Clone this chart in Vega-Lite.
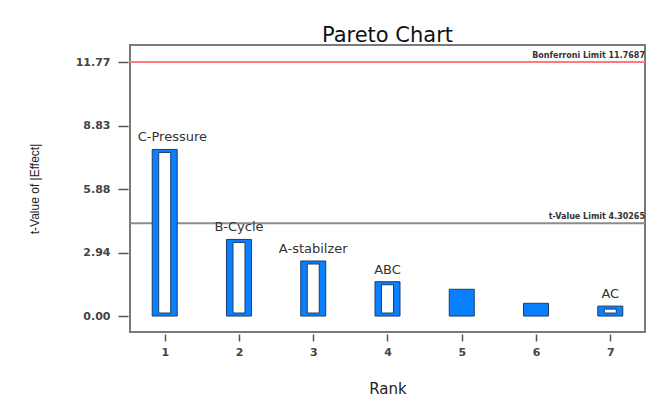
{
  "$schema": "https://vega.github.io/schema/vega-lite/v6.json",
  "width": 515,
  "height": 287,
  "autosize": {"type": "none"},
  "padding": {"left": 130, "top": 45, "right": 27, "bottom": 66},
  "background": "white",
  "title": {
    "text": "Pareto Chart",
    "font": "DejaVu Sans",
    "fontSize": 21,
    "fontWeight": "normal",
    "color": "#111111",
    "anchor": "middle",
    "offset": -1
  },
  "config": {
    "view": {"stroke": "#7a7a7a", "strokeWidth": 2},
    "font": "DejaVu Sans"
  },
  "datasets": {
    "effects": [
      {"rank": 1, "t": 7.72, "term": "C-Pressure"},
      {"rank": 2, "t": 3.55, "term": "B-Cycle"},
      {"rank": 3, "t": 2.55, "term": "A-stabilzer"},
      {"rank": 4, "t": 1.59, "term": "ABC"},
      {"rank": 5, "t": 1.24, "term": ""},
      {"rank": 6, "t": 0.59, "term": ""},
      {"rank": 7, "t": 0.46, "term": "AC"}
    ],
    "limits": [
      {"limit": "Bonferroni", "t": 11.7687, "label": "Bonferroni Limit 11.7687"},
      {"limit": "t-Value", "t": 4.30265, "label": "t-Value Limit 4.30265"}
    ]
  },
  "layer": [
    {
      "data": {"name": "limits"},
      "mark": {"type": "rule", "strokeWidth": 2},
      "encoding": {
        "y": {
          "field": "t",
          "type": "quantitative",
          "scale": {"domain": [-0.74, 12.56], "nice": false, "zero": false},
          "axis": {
            "title": "t-Value of |Effect|",
            "titleFont": "Liberation Sans",
            "titleFontSize": 12,
            "titleFontWeight": "normal",
            "titleColor": "#222222",
            "titlePadding": 34,
            "values": [0, 2.942175, 5.88435, 8.826525, 11.7687],
            "format": ".2f",
            "grid": false,
            "domain": false,
            "offset": 2,
            "tickSize": 10,
            "tickColor": "#555555",
            "tickWidth": 1.5,
            "labelFontSize": 11,
            "labelFontWeight": "bold",
            "labelColor": "#444444",
            "labelPadding": 8
          }
        },
        "color": {
          "field": "limit",
          "type": "nominal",
          "scale": {"domain": ["Bonferroni", "t-Value"], "range": ["#ff7b7b", "#8c8c8c"]},
          "legend": null
        }
      }
    },
    {
      "data": {"name": "limits"},
      "mark": {"type": "text", "align": "right", "baseline": "alphabetic", "dy": -4, "fontSize": 8, "fontWeight": "bold", "color": "#333333"},
      "encoding": {
        "x": {"value": "width"},
        "y": {"field": "t", "type": "quantitative"},
        "text": {"field": "label"}
      }
    },
    {
      "data": {"name": "effects"},
      "mark": {"type": "bar", "width": 25, "color": "#0a80ff", "stroke": "#1f3d66", "strokeWidth": 1},
      "encoding": {
        "x": {
          "field": "rank",
          "type": "quantitative",
          "scale": {"domain": [0.6, 7.4], "nice": false, "zero": false},
          "axis": {
            "title": "Rank",
            "titleFont": "DejaVu Sans",
            "titleFontSize": 15,
            "titleFontWeight": "normal",
            "titleColor": "#222222",
            "titlePadding": 24,
            "values": [1, 2, 3, 4, 5, 6, 7],
            "format": "d",
            "grid": false,
            "domain": false,
            "offset": 2,
            "tickSize": 7,
            "tickColor": "#555555",
            "tickWidth": 1.5,
            "labelFontSize": 11,
            "labelFontWeight": "bold",
            "labelColor": "#444444",
            "labelPadding": 5
          }
        },
        "y": {"field": "t", "type": "quantitative"},
        "y2": {"datum": 0}
      }
    },
    {
      "data": {"name": "effects"},
      "transform": [{"filter": "datum.term != ''"}],
      "mark": {"type": "bar", "width": 12, "fill": "white", "stroke": "#1f3d66", "strokeWidth": 1, "yOffset": 3, "y2Offset": -3},
      "encoding": {
        "x": {"field": "rank", "type": "quantitative"},
        "y": {"field": "t", "type": "quantitative"},
        "y2": {"datum": 0}
      }
    },
    {
      "data": {"name": "effects"},
      "transform": [{"filter": "datum.term != '' && datum.rank != 1"}],
      "mark": {"type": "text", "align": "center", "baseline": "alphabetic", "dy": -8, "fontSize": 13, "color": "#333333"},
      "encoding": {
        "x": {"field": "rank", "type": "quantitative"},
        "y": {"field": "t", "type": "quantitative"},
        "text": {"field": "term"}
      }
    },
    {
      "data": {"name": "effects"},
      "transform": [{"filter": "datum.rank == 1"}],
      "mark": {"type": "text", "align": "left", "baseline": "alphabetic", "dx": -27, "dy": -8, "fontSize": 13, "color": "#333333"},
      "encoding": {
        "x": {"field": "rank", "type": "quantitative"},
        "y": {"field": "t", "type": "quantitative"},
        "text": {"field": "term"}
      }
    }
  ]
}
